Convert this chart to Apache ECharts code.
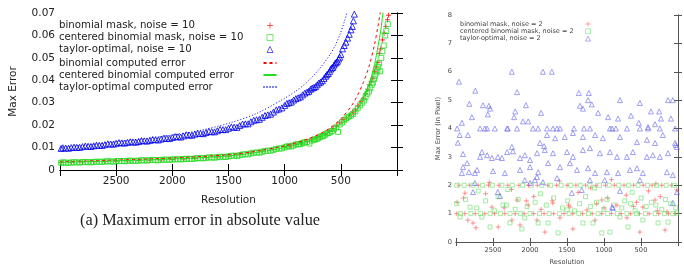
<!DOCTYPE html>
<html>
<head>
<meta charset="utf-8">
<script src="https://cdn.jsdelivr.net/npm/echarts@6/dist/echarts.min.js"></script>
<style>
  html, body { margin: 0; padding: 0; background: #fff; }
  #chart { width: 684px; height: 274px; }
</style>
</head>
<body>
<div id="chart"></div>
<script>
// ---- left panel (noise = 10), pairs of [resolution, max error] ----
var binomial10 = [[2990,0.0034],[2900,0.0035],[2800,0.0036],[2700,0.0037],[2600,0.0038],[2500,0.0040],[2400,0.0041],[2300,0.0042],[2200,0.0044],[2100,0.0045],[2000,0.0047],[1900,0.0049],[1800,0.0052],[1700,0.0055],[1600,0.0058],[1500,0.0062],[1400,0.0068],[1300,0.0076],[1200,0.0084],[1100,0.0092],[1000,0.0104],[950,0.0110],[900,0.0115],[850,0.0121],[800,0.0128],[760,0.0134],[720,0.0143],[680,0.0150],[640,0.0160],[600,0.0172],[570,0.0185],[540,0.0196],[510,0.0210],[480,0.0225],[450,0.0232],[420,0.0245],[395,0.0258],[370,0.0268],[345,0.0285],[320,0.0305],[300,0.0320],[280,0.0340],[262,0.0360],[245,0.0380],[230,0.0395],[215,0.0410],[200,0.0440],[185,0.0460],[170,0.0480],[158,0.0520],[145,0.0540],[130,0.0580],[115,0.0610],[100,0.0640],[85,0.0670],[75,0.0690]];
var centered10 = [[2990,0.0032],[2950,0.0033],[2900,0.0033],[2850,0.0034],[2800,0.0035],[2750,0.0035],[2700,0.0036],[2650,0.0037],[2600,0.0038],[2550,0.0038],[2500,0.0039],[2450,0.0040],[2400,0.0041],[2350,0.0041],[2300,0.0042],[2250,0.0043],[2200,0.0044],[2150,0.0044],[2100,0.0045],[2050,0.0046],[2000,0.0047],[1950,0.0048],[1900,0.0049],[1850,0.0050],[1800,0.0051],[1750,0.0053],[1700,0.0054],[1650,0.0056],[1600,0.0057],[1550,0.0059],[1500,0.0061],[1450,0.0064],[1400,0.0066],[1350,0.0070],[1300,0.0074],[1250,0.0078],[1200,0.0081],[1150,0.0086],[1100,0.0090],[1050,0.0096],[1000,0.0101],[960,0.0106],[920,0.0110],[880,0.0115],[840,0.0120],[800,0.0125],[780,0.0118],[760,0.0131],[730,0.0136],[700,0.0142],[670,0.0150],[640,0.0157],[610,0.0165],[580,0.0174],[560,0.0183],[540,0.0190],[525,0.0170],[510,0.0203],[490,0.0212],[470,0.0222],[450,0.0230],[430,0.0238],[410,0.0242],[390,0.0250],[370,0.0262],[350,0.0275],[330,0.0288],[310,0.0300],[295,0.0310],[280,0.0325],[265,0.0340],[250,0.0350],[238,0.0365],[225,0.0380],[215,0.0390],[205,0.0405],[195,0.0420],[185,0.0435],[175,0.0445],[168,0.0460],[160,0.0475],[150,0.0440],[140,0.0500],[130,0.0530],[118,0.0555],[105,0.0600],[95,0.0620],[82,0.0650],
  [2975,0.0034],[2925,0.0032],[2875,0.0035],[2825,0.0033],[2775,0.0036],[2725,0.0034],[2675,0.0037],[2625,0.0036],[2575,0.0039],[2525,0.0037],[2475,0.0040],[2425,0.0039],[2375,0.0042],[2325,0.0040],[2275,0.0043],[2225,0.0042],[2175,0.0045],[2125,0.0043],[2075,0.0046],[2025,0.0045],[1975,0.0048],[1925,0.0047],[1875,0.0050],[1825,0.0049],[1775,0.0053],[1725,0.0052],[1675,0.0056],[1625,0.0055],[1575,0.0059],[1525,0.0058],[1475,0.0063],[1425,0.0062],[1375,0.0069],[1325,0.0070],[1275,0.0077],[1225,0.0077],[1175,0.0085],[1125,0.0086],[1075,0.0094],[1025,0.0096],[980,0.0105],[940,0.0105],[900,0.0114],[860,0.0115],[820,0.0124],[740,0.0135],[715,0.0138],[685,0.0148],[655,0.0151],[625,0.0163],[595,0.0168]];
var taylor10 = [[2990,0.0096],[2950,0.0098],[2900,0.0100],[2850,0.0101],[2800,0.0104],[2750,0.0106],[2700,0.0108],[2650,0.0110],[2600,0.0113],[2550,0.0116],[2500,0.0119],[2450,0.0121],[2400,0.0123],[2350,0.0125],[2300,0.0127],[2250,0.0130],[2200,0.0132],[2150,0.0135],[2100,0.0138],[2050,0.0141],[2000,0.0145],[1950,0.0148],[1900,0.0152],[1850,0.0156],[1800,0.0160],[1750,0.0163],[1700,0.0167],[1650,0.0171],[1600,0.0175],[1550,0.0180],[1500,0.0186],[1450,0.0191],[1400,0.0198],[1350,0.0206],[1300,0.0215],[1250,0.0224],[1200,0.0235],[1150,0.0246],[1100,0.0258],[1050,0.0272],[1000,0.0288],[960,0.0300],[920,0.0312],[880,0.0322],[840,0.0335],[800,0.0348],[770,0.0360],[740,0.0368],[710,0.0380],[680,0.0392],[650,0.0408],[625,0.0425],[600,0.0440],[580,0.0455],[560,0.0468],[540,0.0480],[520,0.0495],[500,0.0515],[485,0.0540],[470,0.0555],[455,0.0570],[440,0.0588],[425,0.0605],[410,0.0625],[398,0.0640],[388,0.0665],[380,0.0695],
  [2975,0.0099],[2925,0.0097],[2875,0.0102],[2825,0.0101],[2775,0.0107],[2725,0.0105],[2675,0.0111],[2625,0.0110],[2575,0.0117],[2525,0.0115],[2475,0.0122],[2425,0.0120],[2375,0.0126],[2325,0.0124],[2275,0.0131],[2225,0.0129],[2175,0.0136],[2125,0.0134],[2075,0.0142],[2025,0.0140],[1975,0.0149],[1925,0.0147],[1875,0.0157],[1825,0.0155],[1775,0.0164],[1725,0.0162],[1675,0.0172],[1625,0.0170],[1575,0.0181],[1525,0.0180],[1475,0.0192],[1425,0.0190],[1375,0.0205],[1325,0.0206],[1275,0.0222],[1225,0.0226],[1175,0.0243],[1125,0.0249],[1075,0.0268],[1025,0.0277],[980,0.0297],[940,0.0303],[900,0.0318],[860,0.0326],[820,0.0343],[785,0.0351],[755,0.0365],[725,0.0372],[695,0.0388],[665,0.0398],[635,0.0418],[612,0.0430],[590,0.0450],[570,0.0458],[550,0.0476],[530,0.0485],[510,0.0503]];
var binomialCalc = [[3000,0.0036],[2500,0.0044],[2000,0.0053],[1500,0.0068],[1250,0.0084],[1000,0.0108],[800,0.0137],[700,0.0158],[600,0.0186],[500,0.0228],[400,0.0290],[350,0.0335],[300,0.0390],[250,0.0460],[200,0.0560],[170,0.0640],[150,0.0700],[140,0.0740]];
var centeredCalc = [[3000,0.0034],[2500,0.0041],[2000,0.0049],[1500,0.0063],[1250,0.0078],[1000,0.0100],[800,0.0127],[700,0.0145],[600,0.0170],[500,0.0205],[400,0.0235],[350,0.0272],[300,0.0320],[250,0.0380],[200,0.0470],[170,0.0550],[145,0.0620],[125,0.0700],[115,0.0740]];
var taylorCalc = [[3000,0.0101],[2750,0.0112],[2500,0.0126],[2250,0.0140],[2000,0.0156],[1750,0.0177],[1500,0.0208],[1250,0.0252],[1000,0.0320],[900,0.0352],[800,0.0392],[700,0.0445],[600,0.0512],[550,0.0555],[500,0.0615],[470,0.0660],[445,0.0700],[430,0.0730]];

// ---- right panel (noise = 2) ----
var binomial2 = [[2960,2.0],[2820,2.0],[2700,2.0],[2560,2.0],[2420,2.0],[2300,2.0],[2150,2.0],[2020,2.0],[1900,2.0],[1760,2.0],[1640,2.0],[1500,2.0],[1380,2.0],[1250,2.0],[1110,2.0],[980,2.0],[860,2.0],[730,2.0],[600,2.0],[470,2.0],[350,2.0],[220,2.0],[90,2.0],
  [2990,1.0],[2880,1.0],[2740,1.0],[2610,1.0],[2480,1.0],[2340,1.0],[2200,1.0],[2080,1.0],[1950,1.0],[1810,1.0],[1680,1.0],[1540,1.0],[1420,1.0],[1290,1.0],[1160,1.0],[1030,1.0],[900,1.0],[770,1.0],[640,1.0],[520,1.0],[390,1.0],[260,1.0],[130,1.0],[40,1.0],
  [2985,1.4],[2880,1.72],[2840,0.77],[2730,0.5],[2770,0.67],[2515,1.23],[2430,0.53],[2245,0.77],[2135,0.6],[2175,1.48],[2025,1.3],[1905,0.77],[1800,0.35],[1690,1.37],[1595,0.85],[1420,0.46],[1460,1.23],[1230,1.13],[1120,0.77],[1030,1.48],[825,1.3],[690,0.85],[515,0.35],[475,1.23],[310,1.48],[175,0.42],[150,1.06],[15,1.83],
  [2900,1.55],[2600,1.7],[2250,1.85],[1950,1.6],[1700,1.45],[1350,1.75],[1180,1.9],[950,1.55],[700,1.65],[560,1.4],[400,1.8],[240,1.6],[2350,1.2],[1850,1.15],[1100,1.35],[600,1.25],[280,1.1],[2550,2.1],[1600,2.15],[900,2.2],[300,2.05],[2050,1.45],[1480,1.3],[1000,1.2]];
var centered2 = [[2990,2.0],[2890,2.0],[2770,2.0],[2640,2.0],[2510,2.0],[2380,2.0],[2240,2.0],[2100,2.0],[1980,2.0],[1840,2.0],[1720,2.0],[1580,2.0],[1450,2.0],[1320,2.0],[1190,2.0],[1060,2.0],[930,2.0],[800,2.0],[670,2.0],[540,2.0],[410,2.0],[290,2.0],[160,2.0],[50,2.0],
  [2940,1.0],[2800,1.0],[2670,1.0],[2540,1.0],[2400,1.0],[2270,1.0],[2130,1.0],[2000,1.0],[1870,1.0],[1740,1.0],[1600,1.0],[1470,1.0],[1340,1.0],[1210,1.0],[1080,1.0],[950,1.0],[820,1.0],[690,1.0],[560,1.0],[440,1.0],[310,1.0],[180,1.0],[70,1.0],
  [2945,0.88],[2810,1.23],[2540,0.53],[2650,0.88],[2365,1.3],[2270,0.67],[2110,0.46],[2070,0.85],[1890,0.67],[1755,0.67],[1620,0.32],[1500,1.13],[1285,0.67],[1150,0.67],[1030,0.32],[920,0.35],[785,0.88],[675,0.53],[475,0.77],[270,0.67],[135,0.7],[15,1.02],
  [2990,1.35],[2870,1.5],[2720,1.2],[2600,1.45],[2480,1.1],[2430,1.6],[2320,1.3],[2200,1.15],[2160,1.5],[2040,1.25],[1930,1.4],[1860,1.7],[1780,1.3],[1680,1.55],[1560,1.2],[1490,1.45],[1400,1.1],[1330,1.35],[1250,1.6],[1180,1.25],[1100,1.4],[1000,1.15],[960,1.5],[870,1.3],[760,1.2],[720,1.45],[640,1.35],[580,1.1],[500,1.55],[430,1.25],[360,1.4],[300,1.3],[220,1.15],[170,1.5],[100,1.35],[30,1.2],[2300,1.85],[1130,1.9],[620,1.75],[2700,1.8]];
var taylor2 = [[2960,5.65],[2740,5.33],[2820,4.87],[2785,4.4],[2920,4.2],[2635,4.82],[2555,4.8],[2540,4.7],[2570,4.5],[2245,6.0],[2175,5.28],[2200,4.6],[2215,4.4],[2055,4.82],[2095,4.25],[2025,4.25],[1850,4.55],
  [2985,4.0],[2675,4.0],[2610,4.0],[2580,4.0],[2475,4.0],[2310,4.0],[2300,4.0],[2175,4.0],[1960,4.0],[1890,4.0],[1770,4.0],[1690,4.0],[1635,4.0],[1595,4.0],[1405,4.0],[1270,4.0],[1190,4.0],[920,4.0],[890,4.0],[840,4.0],[690,4.0],[515,4.0],[405,4.0],[245,4.0],[40,4.0],
  [1825,6.0],[1705,6.0],[1340,5.25],[1205,5.25],[1215,5.0],[1325,4.8],[1285,4.7],[1165,4.85],[785,5.0],[515,4.9],[135,5.0],[70,5.0],[1080,4.55],[945,4.4],[810,4.35],[635,4.45],[365,4.6],[255,4.6],[230,4.35],[95,4.35],[530,4.2],[405,4.05],[310,4.15],
  [2975,3.5],[2950,3.77],[2905,3.1],[2840,3.77],[2650,3.17],[2675,3.0],[2580,3.06],[2515,2.96],[2435,3.0],[2380,2.96],[2310,3.17],[2245,3.35],[2230,3.2],[2135,2.96],[2070,3.06],[2000,2.89],[1905,3.13],[1865,3.49],[1810,3.38],
  [2920,2.43],[2905,2.64],[2825,2.46],[2745,2.43],[2715,2.54],[2850,2.78],[2500,2.5],[2340,2.43],[2135,2.54],[2000,2.64],[1890,2.46],[2070,2.18],[1905,2.29],[2770,1.76],[2745,2.08],[2405,1.62],[2435,1.76],[2000,2.08],[1935,2.18],[1825,2.11],
  [1770,3.77],[1660,3.66],[1530,3.7],[1420,3.84],[1285,3.7],[1120,3.77],[1015,3.66],[785,3.7],[555,3.52],[420,3.6],[310,3.49],[205,3.77],[40,3.49],[15,3.35],
  [1800,3.24],[1690,3.13],[1500,3.17],[1420,3.0],[1285,3.24],[1190,3.31],[1055,3.13],[920,3.17],[825,3.0],[690,3.0],[610,3.17],[420,3.0],[340,3.06],[245,3.0],[135,3.13],[30,3.42],
  [1755,2.78],[1595,2.64],[1460,2.78],[1365,2.54],[1215,2.6],[1120,2.43],[960,2.46],[810,2.43],[650,2.54],[555,2.6],[475,2.43],[150,2.46],[70,2.36],[1635,2.25],[1190,2.18],[990,2.18],[515,2.18],
  [1435,1.73],[1300,1.83],[785,1.8],[890,1.23],[880,1.2],[15,1.76],[70,1.38]];

var plus = 'path://M0,5L10,5M5,0L5,10';
var RED = '#ff0000', GREEN = '#22dd22', BLUE = '#0000ee';
var RED2 = '#ff5a5a', GREEN2 = '#6ee06e', BLUE2 = '#6a6aee';
var noDot = { color: 'rgba(0,0,0,0)', borderWidth: 0 };
var thin = { borderWidth: 0.8 };

function xLabel(v) {
  return (v === 0 || v === 3000) ? '' : String(v);
}

function frameAxis(grid, pos, color, tickLen, extra) {
  var a = {
    gridIndex: grid,
    position: pos,
    type: 'value',
    axisLine: { show: true, lineStyle: { color: color, width: 1 } },
    axisTick: { show: true, inside: true, length: tickLen, lineStyle: { color: color } },
    axisLabel: { show: false },
    splitLine: { show: false }
  };
  for (var k in extra) a[k] = extra[k];
  return a;
}

function legendBox(left, top, w, h, gap, textW, fs, lh, color, data) {
  return {
    orient: 'vertical', align: 'right', left: left, top: top, padding: 0,
    itemWidth: w, itemHeight: h, itemGap: gap,
    data: data,
    formatter: function (n) { return '{t|' + n + '}'; },
    textStyle: { fontFamily: 'DejaVu Sans', fontSize: fs, color: color,
      rich: { t: { width: textW, align: 'left', fontFamily: 'DejaVu Sans', fontSize: fs, lineHeight: lh, color: color } } }
  };
}

var chart = echarts.init(document.getElementById('chart'), null, { renderer: 'canvas' });

var xRange = { inverse: true, min: 0, max: 3000, interval: 500 };

var option = {
  animation: false,
  title: [{
    text: '(a) Maximum error in absolute value',
    left: 75, top: 208,
    textStyle: { fontFamily: 'Liberation Serif', fontSize: 16.3, fontWeight: 'normal', color: '#222' }
  }],
  grid: [
    { left: 53, top: 13, width: 344, height: 157 },
    { left: 456, top: 15, width: 222, height: 227 }
  ],
  legend: [
    legendBox(59, 20.5, 6, 6, 2, 203, 10.2, 10.5, '#222', [
      { name: 'binomial mask, noise = 10', itemStyle: thin },
      { name: 'centered binomial mask, noise = 10', itemStyle: thin },
      { name: 'taylor-optimal, noise = 10', itemStyle: thin }]),
    legendBox(59, 58, 13, 7, 2, 199.5, 10.2, 10.5, '#222', [
      { name: 'binomial computed error', itemStyle: noDot },
      { name: 'centered binomial computed error', itemStyle: noDot },
      { name: 'taylor-optimal computed error', itemStyle: noDot }]),
    legendBox(460, 20.5, 5, 5, 0.3, 120.5, 6.5, 7.8, '#444', [
      { name: 'binomial mask, noise = 2', itemStyle: { borderWidth: 0.7 } },
      { name: 'centered binomial mask, noise = 2', itemStyle: { borderWidth: 0.7 } },
      { name: 'taylor-optimal, noise = 2', itemStyle: { borderWidth: 0.7 } }])
  ],
  xAxis: [
    frameAxis(0, 'bottom', '#000', 6, Object.assign({}, xRange, {
      name: 'Resolution', nameLocation: 'middle', nameGap: 25,
      nameTextStyle: { fontFamily: 'DejaVu Sans', fontSize: 10.5, color: '#222' },
      axisLabel: { show: true, margin: 6, formatter: xLabel, fontFamily: 'DejaVu Sans', fontSize: 10.5, color: '#222' }
    })),
    frameAxis(0, 'top', '#000', 6, xRange),
    frameAxis(1, 'bottom', '#555', 4, Object.assign({}, xRange, {
      name: 'Resolution', nameLocation: 'middle', nameGap: 17,
      nameTextStyle: { fontFamily: 'DejaVu Sans', fontSize: 6.7, color: '#444' },
      axisLabel: { show: true, margin: 5, formatter: xLabel, fontFamily: 'DejaVu Sans', fontSize: 6.7, color: '#444' }
    })),
    frameAxis(1, 'top', '#555', 4, xRange)
  ],
  yAxis: [
    frameAxis(0, 'left', '#000', 6, {
      min: 0, max: 0.07, interval: 0.01,
      name: 'Max Error', nameLocation: 'middle', nameGap: 41, nameRotate: 90,
      nameTextStyle: { fontFamily: 'DejaVu Sans', fontSize: 10.5, color: '#222' },
      axisLabel: { show: true, margin: 5, fontFamily: 'DejaVu Sans', fontSize: 10.5, color: '#222',
        formatter: function (v) { return v === 0 ? '0' : v.toFixed(2); } }
    }),
    frameAxis(0, 'right', '#000', 6, { min: 0, max: 0.07, interval: 0.01 }),
    frameAxis(1, 'left', '#555', 4, {
      min: 0, max: 8, interval: 1,
      name: 'Max Error (in Pixel)', nameLocation: 'middle', nameGap: 14, nameRotate: 90,
      nameTextStyle: { fontFamily: 'DejaVu Sans', fontSize: 6.7, color: '#444' },
      axisLabel: { show: true, margin: 4, fontFamily: 'DejaVu Sans', fontSize: 6.7, color: '#444' }
    }),
    frameAxis(1, 'right', '#555', 4, { min: 0, max: 8, interval: 1 })
  ],
  series: [
    { name: 'binomial mask, noise = 10', type: 'scatter', xAxisIndex: 0, yAxisIndex: 0, z: 2,
      symbol: plus, symbolSize: 5, data: binomial10,
      itemStyle: { color: 'rgba(0,0,0,0)', borderColor: RED, borderWidth: 1 } },
    { name: 'centered binomial mask, noise = 10', type: 'scatter', xAxisIndex: 0, yAxisIndex: 0, z: 2,
      symbol: 'rect', symbolSize: 5, data: centered10,
      itemStyle: { color: 'rgba(0,0,0,0)', borderColor: GREEN, borderWidth: 1 } },
    { name: 'taylor-optimal, noise = 10', type: 'scatter', xAxisIndex: 0, yAxisIndex: 0, z: 2,
      symbol: 'triangle', symbolSize: 6, data: taylor10,
      itemStyle: { color: 'rgba(0,0,0,0)', borderColor: BLUE, borderWidth: 1 } },
    { name: 'binomial computed error', type: 'line', xAxisIndex: 0, yAxisIndex: 0, z: 3,
      symbol: 'none', smooth: 0.3, data: binomialCalc,
      lineStyle: { color: RED, width: 1, type: [3, 3] }, itemStyle: { color: RED } },
    { name: 'centered binomial computed error', type: 'line', xAxisIndex: 0, yAxisIndex: 0, z: 3,
      symbol: 'none', smooth: 0.3, data: centeredCalc,
      lineStyle: { color: GREEN, width: 1 }, itemStyle: { color: GREEN } },
    { name: 'taylor-optimal computed error', type: 'line', xAxisIndex: 0, yAxisIndex: 0, z: 3,
      symbol: 'none', smooth: 0.3, data: taylorCalc,
      lineStyle: { color: BLUE, width: 1, type: [1, 2] }, itemStyle: { color: BLUE } },

    { name: 'binomial mask, noise = 2', type: 'scatter', xAxisIndex: 2, yAxisIndex: 2, z: 2,
      symbol: plus, symbolSize: 5, data: binomial2,
      itemStyle: { color: 'rgba(0,0,0,0)', borderColor: RED2, borderWidth: 0.8 } },
    { name: 'centered binomial mask, noise = 2', type: 'scatter', xAxisIndex: 2, yAxisIndex: 2, z: 2,
      symbol: 'rect', symbolSize: 4, data: centered2,
      itemStyle: { color: 'rgba(0,0,0,0)', borderColor: GREEN2, borderWidth: 0.8 } },
    { name: 'taylor-optimal, noise = 2', type: 'scatter', xAxisIndex: 2, yAxisIndex: 2, z: 2,
      symbol: 'triangle', symbolSize: 5, data: taylor2,
      itemStyle: { color: 'rgba(0,0,0,0)', borderColor: BLUE2, borderWidth: 0.8 } }
  ]
};

chart.setOption(option);
</script>
</body>
</html>
